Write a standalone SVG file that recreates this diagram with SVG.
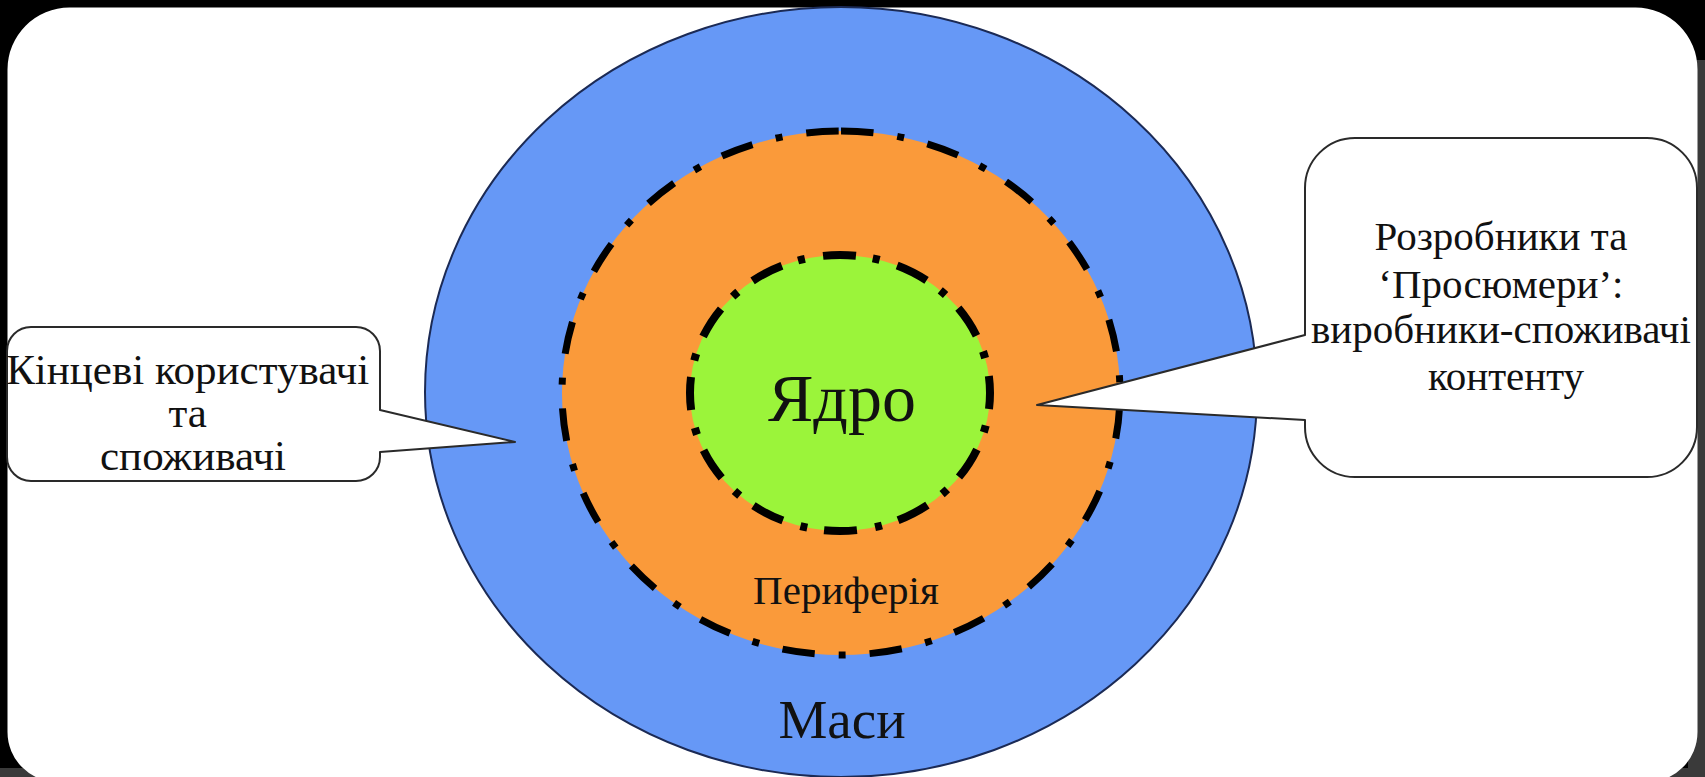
<svg xmlns="http://www.w3.org/2000/svg" width="1705" height="777" viewBox="0 0 1705 777">
  <style>
    .lbl { font-family: "Liberation Serif", "Times New Roman", serif; fill: #111; text-anchor: middle; }
    .callout { fill: #ffffff; stroke: #2a2a2a; stroke-width: 2; stroke-linejoin: round; }
    .ring { stroke: #000; stroke-linecap: butt; }
  </style>
  <rect x="0" y="0" width="1705" height="777" fill="#000"/>
  <rect x="1688" y="60" width="17" height="717" fill="#3a3a3a"/>
  <rect x="0" y="768" width="1705" height="9" fill="#3a3a3a"/>
  <path id="panel" d="M 69.5,7.5 H 1635.5 A 62 62 0 0 1 1697.5,69.5 V 732 A 50 50 0 0 1 1647.5,782 H 57.5 A 50 50 0 0 1 7.5,732 V 69.5 A 62 62 0 0 1 69.5,7.5 Z" fill="#fff"/>

  <g id="masy">
    <ellipse cx="841" cy="392" rx="416" ry="385" fill="#6698F6" stroke="#1b2a55" stroke-width="2"/>
    <text class="lbl" x="842" y="738" font-size="55">Маси</text>
  </g>

  <g id="peryferiia">
    <path class="ring" d="M 841,131 A 279 262 0 1 1 841,655 A 279 262 0 1 1 841,131 Z" fill="#FA9A3A" stroke-width="7" stroke-dasharray="32.6 24 7 24"/>
    <text class="lbl" x="846" y="604" font-size="41">Периферія</text>
  </g>

  <g id="yadro">
    <path class="ring" d="M 840,255 A 150 138 0 1 1 840,531 A 150 138 0 1 1 840,255 Z" fill="#9BF43A" stroke-width="8" stroke-dasharray="33 17 7 18.4" stroke-dashoffset="17"/>
    <text class="lbl" x="842" y="421" font-size="68">Ядро</text>
  </g>

  <g id="callout-users">
    <path class="callout" d="M 31,327 H 356 A 24 24 0 0 1 380,351 V 410 L 515,442 L 380,452 V 457 A 24 24 0 0 1 356,481 H 31 A 24 24 0 0 1 7,457 V 351 A 24 24 0 0 1 31,327 Z"/>
    <text class="lbl" x="193" font-size="43">
      <tspan x="193" y="384">Кінцеві користувачі</tspan>
      <tspan x="193" y="427">та</tspan>
      <tspan x="193" y="470">споживачі</tspan>
    </text>
  </g>

  <g id="callout-prosumers">
    <path class="callout" d="M 1355,138 H 1647 A 50 50 0 0 1 1697,188 V 427 A 50 50 0 0 1 1647,477 H 1355 A 50 50 0 0 1 1305,427 V 420 L 1037,405 L 1305,335 V 188 A 50 50 0 0 1 1355,138 Z"/>
    <text class="lbl" x="1506" font-size="41">
      <tspan x="1506" y="250">Розробники та</tspan>
      <tspan x="1506" y="298">‘Просюмери’:</tspan>
      <tspan x="1506" y="343">виробники-споживачі</tspan>
      <tspan x="1506" y="390">контенту</tspan>
    </text>
  </g>
</svg>
